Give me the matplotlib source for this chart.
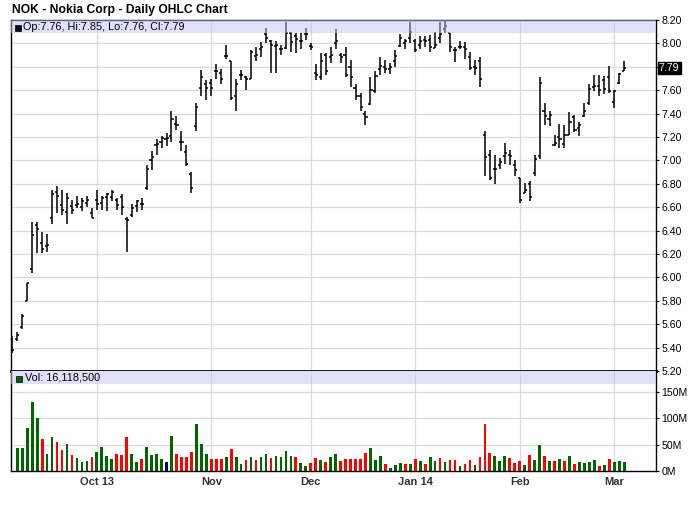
import numpy as np
import matplotlib
matplotlib.use("Agg")
import matplotlib.pyplot as plt
from matplotlib.patches import Rectangle

plt.rcParams['font.family'] = ['Liberation Sans', 'DejaVu Sans']

# Daily OHLC for NOK, one row per trading day (Sep 6 2013 .. Mar 5 2014)
opens = [5.47, 5.47, 5.58, 5.80, 6.07, 6.45, 6.29, 6.27, 6.51, 6.73,
         6.62, 6.56, 6.61, 6.62, 6.60, 6.64, 6.55, 6.66, 6.64, 6.69,
         6.69, 6.66, 6.69, 6.50, 6.53, 6.61, 6.63, 6.76, 7.00, 7.13,
         7.16, 7.18, 7.21, 7.31, 7.16, 7.07, 6.88, 7.29, 7.62, 7.65,
         7.66, 7.76, 7.75, 7.89, 7.85, 7.55, 7.73, 7.71, 7.70, 7.89,
         7.95, 8.08, 8.02, 7.98, 7.95, 7.96, 8.09, 8.06, 8.02, 8.08,
         7.98, 7.75, 7.71, 7.90, 7.88, 8.00, 7.90, 7.90, 7.80, 7.62,
         7.55, 7.40, 7.48, 7.59, 7.78, 7.80, 7.78, 7.85, 7.98, 8.00,
         8.05, 8.02, 7.99, 8.03, 8.03, 7.96, 8.05, 8.12, 8.09, 7.94,
         7.97, 7.97, 7.88, 7.80, 7.85, 7.22, 7.05, 6.93, 6.96, 7.04,
         7.05, 6.96, 6.85, 6.72, 6.80, 6.89, 7.04, 7.42, 7.35, 7.13,
         7.20, 7.14, 7.22, 7.37, 7.28, 7.38, 7.49, 7.63, 7.64, 7.69,
         7.71, 7.50, 7.66, 7.76]
highs = [5.50, 5.53, 5.69, 5.95, 6.47, 6.47, 6.39, 6.37, 6.75, 6.78,
         6.75, 6.72, 6.66, 6.70, 6.68, 6.70, 6.59, 6.75, 6.70, 6.72,
         6.75, 6.68, 6.71, 6.52, 6.63, 6.66, 6.68, 6.96, 7.08, 7.18,
         7.21, 7.23, 7.42, 7.38, 7.25, 7.13, 6.90, 7.49, 7.77, 7.69,
         7.70, 7.82, 7.78, 7.99, 7.85, 7.70, 7.77, 7.72, 7.94, 7.97,
         8.01, 8.13, 8.03, 8.02, 7.99, 8.18, 8.10, 8.09, 8.09, 8.13,
         8.00, 7.82, 7.92, 7.92, 7.97, 8.12, 7.92, 7.97, 7.86, 7.65,
         7.58, 7.42, 7.71, 7.76, 7.88, 7.86, 7.83, 7.94, 8.08, 8.04,
         8.18, 8.04, 8.06, 8.06, 8.07, 8.10, 8.18, 8.19, 8.09, 7.97,
         8.02, 8.01, 7.93, 7.86, 7.88, 7.25, 7.09, 7.05, 7.02, 7.15,
         7.09, 7.00, 6.85, 6.81, 6.82, 7.05, 7.71, 7.49, 7.42, 7.22,
         7.31, 7.30, 7.41, 7.39, 7.33, 7.49, 7.65, 7.73, 7.73, 7.72,
         7.81, 7.60, 7.75, 7.85]
lows = [5.35, 5.46, 5.56, 5.80, 6.04, 6.21, 6.21, 6.22, 6.46, 6.55,
        6.53, 6.46, 6.54, 6.59, 6.57, 6.60, 6.51, 6.58, 6.58, 6.57,
        6.65, 6.58, 6.53, 6.22, 6.52, 6.56, 6.58, 6.75, 6.92, 7.05,
        7.11, 7.12, 7.16, 7.26, 7.08, 6.95, 6.72, 7.25, 7.55, 7.52,
        7.55, 7.70, 7.65, 7.87, 7.52, 7.42, 7.69, 7.60, 7.70, 7.85,
        7.88, 8.00, 7.75, 7.75, 7.90, 7.95, 7.93, 7.92, 7.95, 8.03,
        7.94, 7.69, 7.69, 7.73, 7.83, 7.95, 7.83, 7.71, 7.63, 7.52,
        7.42, 7.30, 7.47, 7.58, 7.73, 7.75, 7.74, 7.80, 7.97, 7.95,
        8.00, 7.93, 7.95, 7.97, 7.93, 7.96, 8.00, 8.09, 7.93, 7.84,
        7.95, 7.87, 7.77, 7.73, 7.63, 6.87, 6.83, 6.80, 6.93, 6.97,
        6.96, 6.87, 6.64, 6.72, 6.65, 6.87, 7.01, 7.30, 7.29, 7.12,
        7.11, 7.11, 7.22, 7.24, 7.21, 7.37, 7.47, 7.59, 7.55, 7.57,
        7.58, 7.45, 7.65, 7.76]
closes = [5.38, 5.51, 5.67, 5.95, 6.36, 6.41, 6.24, 6.28, 6.71, 6.70,
          6.58, 6.68, 6.58, 6.63, 6.65, 6.66, 6.51, 6.63, 6.68, 6.71,
          6.73, 6.62, 6.60, 6.49, 6.59, 6.65, 6.63, 6.93, 7.03, 7.14,
          7.19, 7.19, 7.35, 7.30, 7.16, 6.97, 6.76, 7.46, 7.71, 7.62,
          7.62, 7.76, 7.70, 7.89, 7.53, 7.65, 7.73, 7.70, 7.93, 7.90,
          7.97, 8.05, 7.99, 7.99, 7.95, 8.09, 8.01, 8.04, 8.02, 8.08,
          7.97, 7.73, 7.85, 7.76, 7.90, 8.02, 7.88, 7.73, 7.71, 7.55,
          7.46, 7.37, 7.60, 7.72, 7.81, 7.78, 7.80, 7.89, 8.05, 8.02,
          8.10, 7.94, 8.02, 8.02, 7.97, 7.99, 8.08, 8.15, 7.97, 7.94,
          7.97, 7.95, 7.79, 7.79, 7.70, 7.03, 6.85, 6.93, 6.99, 7.06,
          7.04, 6.92, 6.66, 6.75, 6.69, 7.01, 7.66, 7.38, 7.39, 7.15,
          7.18, 7.22, 7.33, 7.26, 7.30, 7.42, 7.61, 7.64, 7.60, 7.61,
          7.59, 7.59, 7.74, 7.79]

# volume in millions, first day not shown on the chart
volumes = [np.nan, 43, 43, 81, 131, 101, 60, 32, 64, 56,
           39, 51, 30, 24, 17.5, 19, 26, 36, 45, 28,
           22.5, 32, 30, 64, 32, 17, 22.5, 45, 30, 32,
           22.5, 17, 66, 32, 26, 26, 36, 90, 51, 32,
           22.5, 22.5, 22.5, 26, 41, 26, 13, 21, 26, 21,
           26, 32, 25, 28, 26, 38, 28, 26, 15, 9,
           15, 24, 21, 17, 26, 32, 19, 22, 22, 22,
           22, 34, 43, 21, 28, 13, 6, 11, 15, 13,
           13, 22, 19, 13, 26, 19, 24, 17, 21, 21,
           9, 13, 21, 11, 26, 90, 34, 28, 19, 28,
           24, 15, 19, 11, 30, 21, 49, 28, 19, 19,
           22, 19, 28, 13, 17, 15, 17, 21, 9, 11,
           22, 17, 19, 17]
# g = up day, r = down day, b = unchanged (one letter per day)
vol_dir = ("ggggggrggr" "rgrgggrggg" "grrrggrggg" "gbgrrrrggg"
           "rrrgrggrgr" "ggrggggrgg" "rrgrggrrrr" "rrgggrgggr"
           "grgrggrgrr" "grrgrrrggg" "rrrgrggrgr" "grgrggggrg" "rggg")

month_pos = [17, 40, 60, 81, 102, 121]
month_labels = ['Oct 13', 'Nov', 'Dec', 'Jan 14', 'Feb', 'Mar']
price_ticks = [5.20, 5.40, 5.60, 5.80, 6.00, 6.20, 6.40, 6.60, 6.80, 7.00,
               7.20, 7.40, 7.60, 7.80, 8.00, 8.20]
vol_ticks = [0, 50, 100, 150]

W, H = 700, 512
fig = plt.figure(figsize=(7, 5.12), dpi=100)

def fx(px):
    return px / W

def fy(py):
    return 1 - py / H

grid_c = '#dadada'
band_c = '#c3c3f5'
n = len(closes)
x = np.arange(n)
xlim = (-0.26, 129.4)

# ---- price panel ----
ax = fig.add_axes([fx(11), fy(371), fx(656) - fx(11), fy(20) - fy(371)])
ax.set_xlim(*xlim)
ax.set_ylim(5.2, 8.2)
for t in price_ticks:
    ax.axhline(t, color=grid_c, lw=0.9, zorder=0)
for m in month_pos:
    ax.axvline(m, color=grid_c, lw=0.9, zorder=0)

ax.vlines(x, lows, highs, color='black', lw=1.1, zorder=2)
ax.hlines(opens, x - 0.42, x, color='black', lw=1.1, zorder=2)
ax.hlines(closes, x, x + 0.42, color='black', lw=1.1, zorder=2)

ax.axhspan(8.2 - 13 / 117.0, 8.2, color=band_c, alpha=0.5, lw=0, zorder=3)

ax.yaxis.tick_right()
ax.set_yticks(price_ticks)
ax.set_yticklabels(['' if abs(t - 7.80) < 1e-6 else '%.2f' % t for t in price_ticks])
ax.tick_params(axis='y', direction='out', length=2.5, width=0.8, pad=1.5,
               labelsize=7.6, colors='black')
ax.set_xticks([])
for s in ['left', 'right', 'top']:
    ax.spines[s].set_linewidth(1.0)
ax.spines['bottom'].set_linewidth(2.0)

# last close marker on the price axis
ax.text(1.0045, 7.79, '7.79', transform=ax.get_yaxis_transform(),
        ha='left', va='center', fontsize=7.6, color='white', zorder=10,
        bbox=dict(boxstyle='square,pad=0.12', fc='black', ec='black'),
        clip_on=False)

# ---- volume panel ----
axv = fig.add_axes([fx(11), fy(471), fx(656) - fx(11), fy(371) - fy(471)])
axv.set_xlim(*xlim)
axv.set_ylim(0, 190)
for t in vol_ticks[1:]:
    axv.axhline(t, color=grid_c, lw=0.9, zorder=0)
for m in month_pos:
    axv.axvline(m, color=grid_c, lw=0.9, zorder=0)

cmap = {'g': '#006600', 'r': '#ff0000', 'b': '#000080'}
bar_cols = [cmap[c] for c in vol_dir]
axv.bar(x, volumes, width=0.55, color=bar_cols, zorder=2)
axv.axhspan(165, 190, color=band_c, alpha=0.5, lw=0, zorder=3)

axv.yaxis.tick_right()
axv.set_yticks(vol_ticks)
axv.set_yticklabels(['%dM' % v for v in vol_ticks])
axv.tick_params(axis='y', direction='out', length=2.5, width=0.8, pad=1.5,
                labelsize=7.6, colors='black')
axv.set_xticks(month_pos)
axv.set_xticklabels(month_labels, fontweight='bold', fontsize=8, color='#333333')
axv.tick_params(axis='x', length=0, pad=4)
for s in ['left', 'right', 'bottom']:
    axv.spines[s].set_linewidth(1.0)
axv.spines['top'].set_visible(False)

# ---- title and legends ----
fig.text(fx(12), fy(10), 'NOK - Nokia Corp - Daily OHLC Chart', fontsize=8.7,
         fontweight='bold', ha='left', va='center')

fig.patches.append(Rectangle((fx(15), fy(31)), fx(6), 6 / H, transform=fig.transFigure,
                             fc='black', ec='black', lw=0.5, figure=fig))
fig.text(fx(23), fy(26.5), 'Op:7.76, Hi:7.85, Lo:7.76, Cl:7.79', fontsize=7.8,
         ha='left', va='center')

fig.patches.append(Rectangle((fx(16), fy(382)), fx(6), 6 / H, transform=fig.transFigure,
                             fc='#006600', ec='black', lw=0.5, figure=fig))
fig.text(fx(25), fy(378), 'Vol: 16,118,500', fontsize=7.8, ha='left', va='center')

fig.savefig('out.png', dpi=100)
